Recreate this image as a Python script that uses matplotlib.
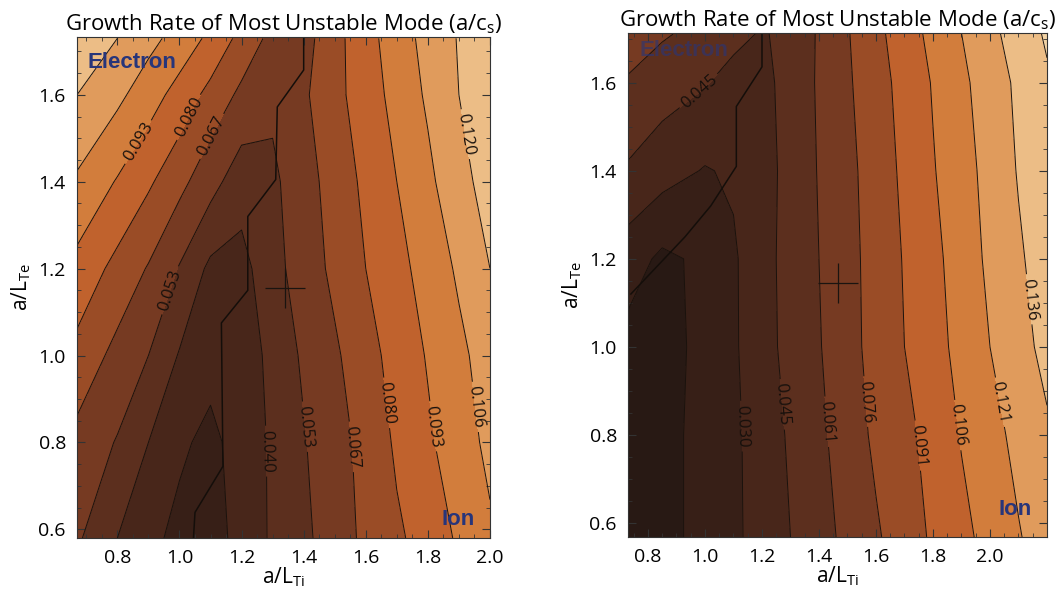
import numpy as np
import matplotlib
matplotlib.use("Agg")
import matplotlib.pyplot as plt
from matplotlib.ticker import MultipleLocator, FormatStrFormatter

plt.rcParams['font.family'] = ['Open Sans', 'DejaVu Sans']
plt.rcParams['mathtext.default'] = 'regular'

# ---- left panel: growth rate on (a/LTi, a/LTe) grid ----
left_x = [0.67, 0.8, 0.9, 1.0, 1.1, 1.2, 1.3, 1.4, 1.5, 1.6, 1.7, 1.8, 1.9, 2.0]
left_y = [0.58, 0.8, 1.0, 1.2, 1.4, 1.6, 1.73]
left_rate = [
    [0.055, 0.040, 0.030, 0.024, 0.022, 0.031, 0.042, 0.050, 0.060, 0.070, 0.078, 0.085, 0.095, 0.104],
    [0.063, 0.052, 0.040, 0.029, 0.024, 0.032, 0.042, 0.052, 0.062, 0.071, 0.082, 0.091, 0.100, 0.109],
    [0.076, 0.063, 0.053, 0.039, 0.031, 0.032, 0.044, 0.055, 0.065, 0.075, 0.085, 0.094, 0.103, 0.112],
    [0.089, 0.076, 0.066, 0.052, 0.037, 0.036, 0.048, 0.060, 0.070, 0.080, 0.089, 0.098, 0.108, 0.120],
    [0.104, 0.092, 0.082, 0.071, 0.058, 0.045, 0.050, 0.062, 0.072, 0.083, 0.093, 0.103, 0.115, 0.126],
    [0.120, 0.109, 0.099, 0.088, 0.076, 0.064, 0.056, 0.065, 0.076, 0.087, 0.097, 0.108, 0.120, 0.130],
    [0.132, 0.120, 0.110, 0.101, 0.090, 0.076, 0.063, 0.062, 0.076, 0.088, 0.100, 0.110, 0.121, 0.132],
]
left_levels = [0.013, 0.027, 0.040, 0.053, 0.067, 0.080, 0.093, 0.106, 0.120, 0.133]
# electron / ion boundary
left_bx = [1.40, 1.40, 1.315, 1.31, 1.22, 1.22, 1.135, 1.14, 1.05, 1.045]
left_by = [1.73, 1.657, 1.572, 1.405, 1.32, 1.15, 1.075, 0.745, 0.639, 0.58]
left_point = (1.34, 1.156)
left_labels = [(0.093, 0.87, 1.49), (0.080, 1.025, 1.55), (0.067, 1.09, 1.51),
               (0.120, 1.925, 1.51), (0.053, 0.97, 1.15), (0.040, 1.28, 0.78),
               (0.053, 1.414, 0.837), (0.067, 1.555, 0.79), (0.080, 1.678, 0.892),
               (0.093, 1.816, 0.837), (0.106, 1.967, 0.883)]

# ---- right panel ----
right_x = [0.73, 0.85, 1.0, 1.1, 1.2, 1.3, 1.4, 1.5, 1.6, 1.7, 1.8, 1.9, 2.0, 2.1, 2.2]
right_y = [0.568, 0.8, 1.0, 1.2, 1.4, 1.6, 1.713]
right_rate = [
    [0.006, 0.011, 0.019, 0.027, 0.036, 0.045, 0.055, 0.065, 0.074, 0.084, 0.093, 0.102, 0.111, 0.120, 0.128],
    [0.006, 0.011, 0.019, 0.027, 0.037, 0.047, 0.058, 0.068, 0.079, 0.087, 0.096, 0.107, 0.116, 0.125, 0.134],
    [0.010, 0.011, 0.018, 0.028, 0.039, 0.050, 0.060, 0.071, 0.081, 0.091, 0.100, 0.111, 0.121, 0.131, 0.140],
    [0.022, 0.012, 0.018, 0.028, 0.040, 0.050, 0.061, 0.071, 0.082, 0.092, 0.102, 0.113, 0.124, 0.134, 0.143],
    [0.043, 0.036, 0.029, 0.032, 0.039, 0.050, 0.062, 0.072, 0.083, 0.094, 0.105, 0.115, 0.126, 0.137, 0.146],
    [0.060, 0.052, 0.046, 0.040, 0.041, 0.050, 0.063, 0.074, 0.085, 0.096, 0.107, 0.118, 0.128, 0.139, 0.149],
    [0.066, 0.063, 0.056, 0.049, 0.044, 0.048, 0.063, 0.075, 0.087, 0.099, 0.110, 0.121, 0.132, 0.143, 0.153],
]
right_levels = [0.015, 0.030, 0.045, 0.061, 0.076, 0.091, 0.106, 0.121, 0.136, 0.151]
right_bx = [1.20, 1.20, 1.11, 1.11, 1.02, 0.93, 0.74]
right_by = [1.713, 1.636, 1.546, 1.41, 1.32, 1.25, 1.12]
right_point = (1.467, 1.145)
right_labels = [(0.045, 0.98, 1.58), (0.030, 1.133, 0.82), (0.045, 1.28, 0.87),
                (0.061, 1.43, 0.83), (0.076, 1.57, 0.876), (0.091, 1.75, 0.776),
                (0.106, 1.885, 0.822), (0.121, 2.05, 0.876), (0.136, 2.165, 1.11)]

band_colors = ['#281914', '#371f17', '#48261a', '#5c2f1e', '#763a22', '#9a4c26',
               '#c0622d', '#d27d3c', '#e09b5c', '#ecbd86', '#f2d3a5', '#f4dcb4']

panels = [
    (left_x, left_y, left_rate, left_levels, left_bx, left_by, left_point, left_labels,
     [0.0728, 0.1003, 0.3903, 0.8378], (0.67, 2.0), (0.58, 1.733),
     (0.025, 0.950, 1.0), (0.883, 0.036)),
    (right_x, right_y, right_rate, right_levels, right_bx, right_by, right_point, right_labels,
     [0.5936, 0.1020, 0.3960, 0.8428], (0.73, 2.2), (0.568, 1.713),
     (0.027, 0.966, 0.6), (0.885, 0.054)),
]

fig = plt.figure(figsize=(10.58, 5.98), dpi=100)

for (px, py, rate, levels, bx, by, pt, labels, rect, xl, yl, etxt, itxt) in panels:
    ax = fig.add_axes(rect)
    ax.set_xlim(*xl)
    ax.set_ylim(*yl)
    X, Y = np.meshgrid(px, py)
    Z = np.array(rate)
    ax.contourf(X, Y, Z, levels=levels, colors=band_colors[:len(levels) + 1], extend='both')
    # one contour set per level so each label sits on its own level
    for lev in levels:
        cs = ax.contour(X, Y, Z, levels=[lev], colors='#1a120d', linewidths=0.7)
        spots = [(lx, ly) for (lv, lx, ly) in labels if lv == lev]
        if spots and len(cs.allsegs[0]) > 0:
            ax.clabel(cs, manual=spots, fmt=lambda v: f'{v:.3f}',
                      fontsize=12, colors='#17100c', inline=True, inline_spacing=4)
    ax.plot(bx, by, color='#140e0a', lw=1.1)
    ax.plot(pt[0], pt[1], marker='+', ms=29, mew=0.9, color='#1a1410')

    ax.text(etxt[0], etxt[1], 'Electron', transform=ax.transAxes, family='Liberation Sans',
            fontweight='bold', fontsize=16, color='#27357a', alpha=etxt[2], va='center', ha='left')
    ax.text(itxt[0], itxt[1], 'Ion', transform=ax.transAxes, family='Liberation Sans',
            fontweight='bold', fontsize=16, color='#27357a', va='center', ha='left')

    ax.set_xticks([0.8, 1.0, 1.2, 1.4, 1.6, 1.8, 2.0])
    ax.set_yticks([0.6, 0.8, 1.0, 1.2, 1.4, 1.6])
    ax.xaxis.set_minor_locator(MultipleLocator(0.05))
    ax.yaxis.set_minor_locator(MultipleLocator(0.05))
    ax.xaxis.set_major_formatter(FormatStrFormatter('%.1f'))
    ax.yaxis.set_major_formatter(FormatStrFormatter('%.1f'))
    ax.tick_params(which='both', direction='in', top=True, right=True, labelsize=14,
                   color='#333333')
    ax.tick_params(which='major', length=6, width=0.8, pad=8)
    ax.tick_params(which='minor', length=3, width=0.6)
    for s in ax.spines.values():
        s.set_linewidth(0.8)
        s.set_color('#333333')

    ax.set_title('Growth Rate of Most Unstable Mode (a/c$_{s}$)', fontsize=16, pad=5)
    ax.set_xlabel('a/L$_{Ti}$', fontsize=15, labelpad=-1)
    ax.set_ylabel('a/L$_{Te}$', fontsize=15, labelpad=4)

fig.savefig('out.png', dpi=100)
